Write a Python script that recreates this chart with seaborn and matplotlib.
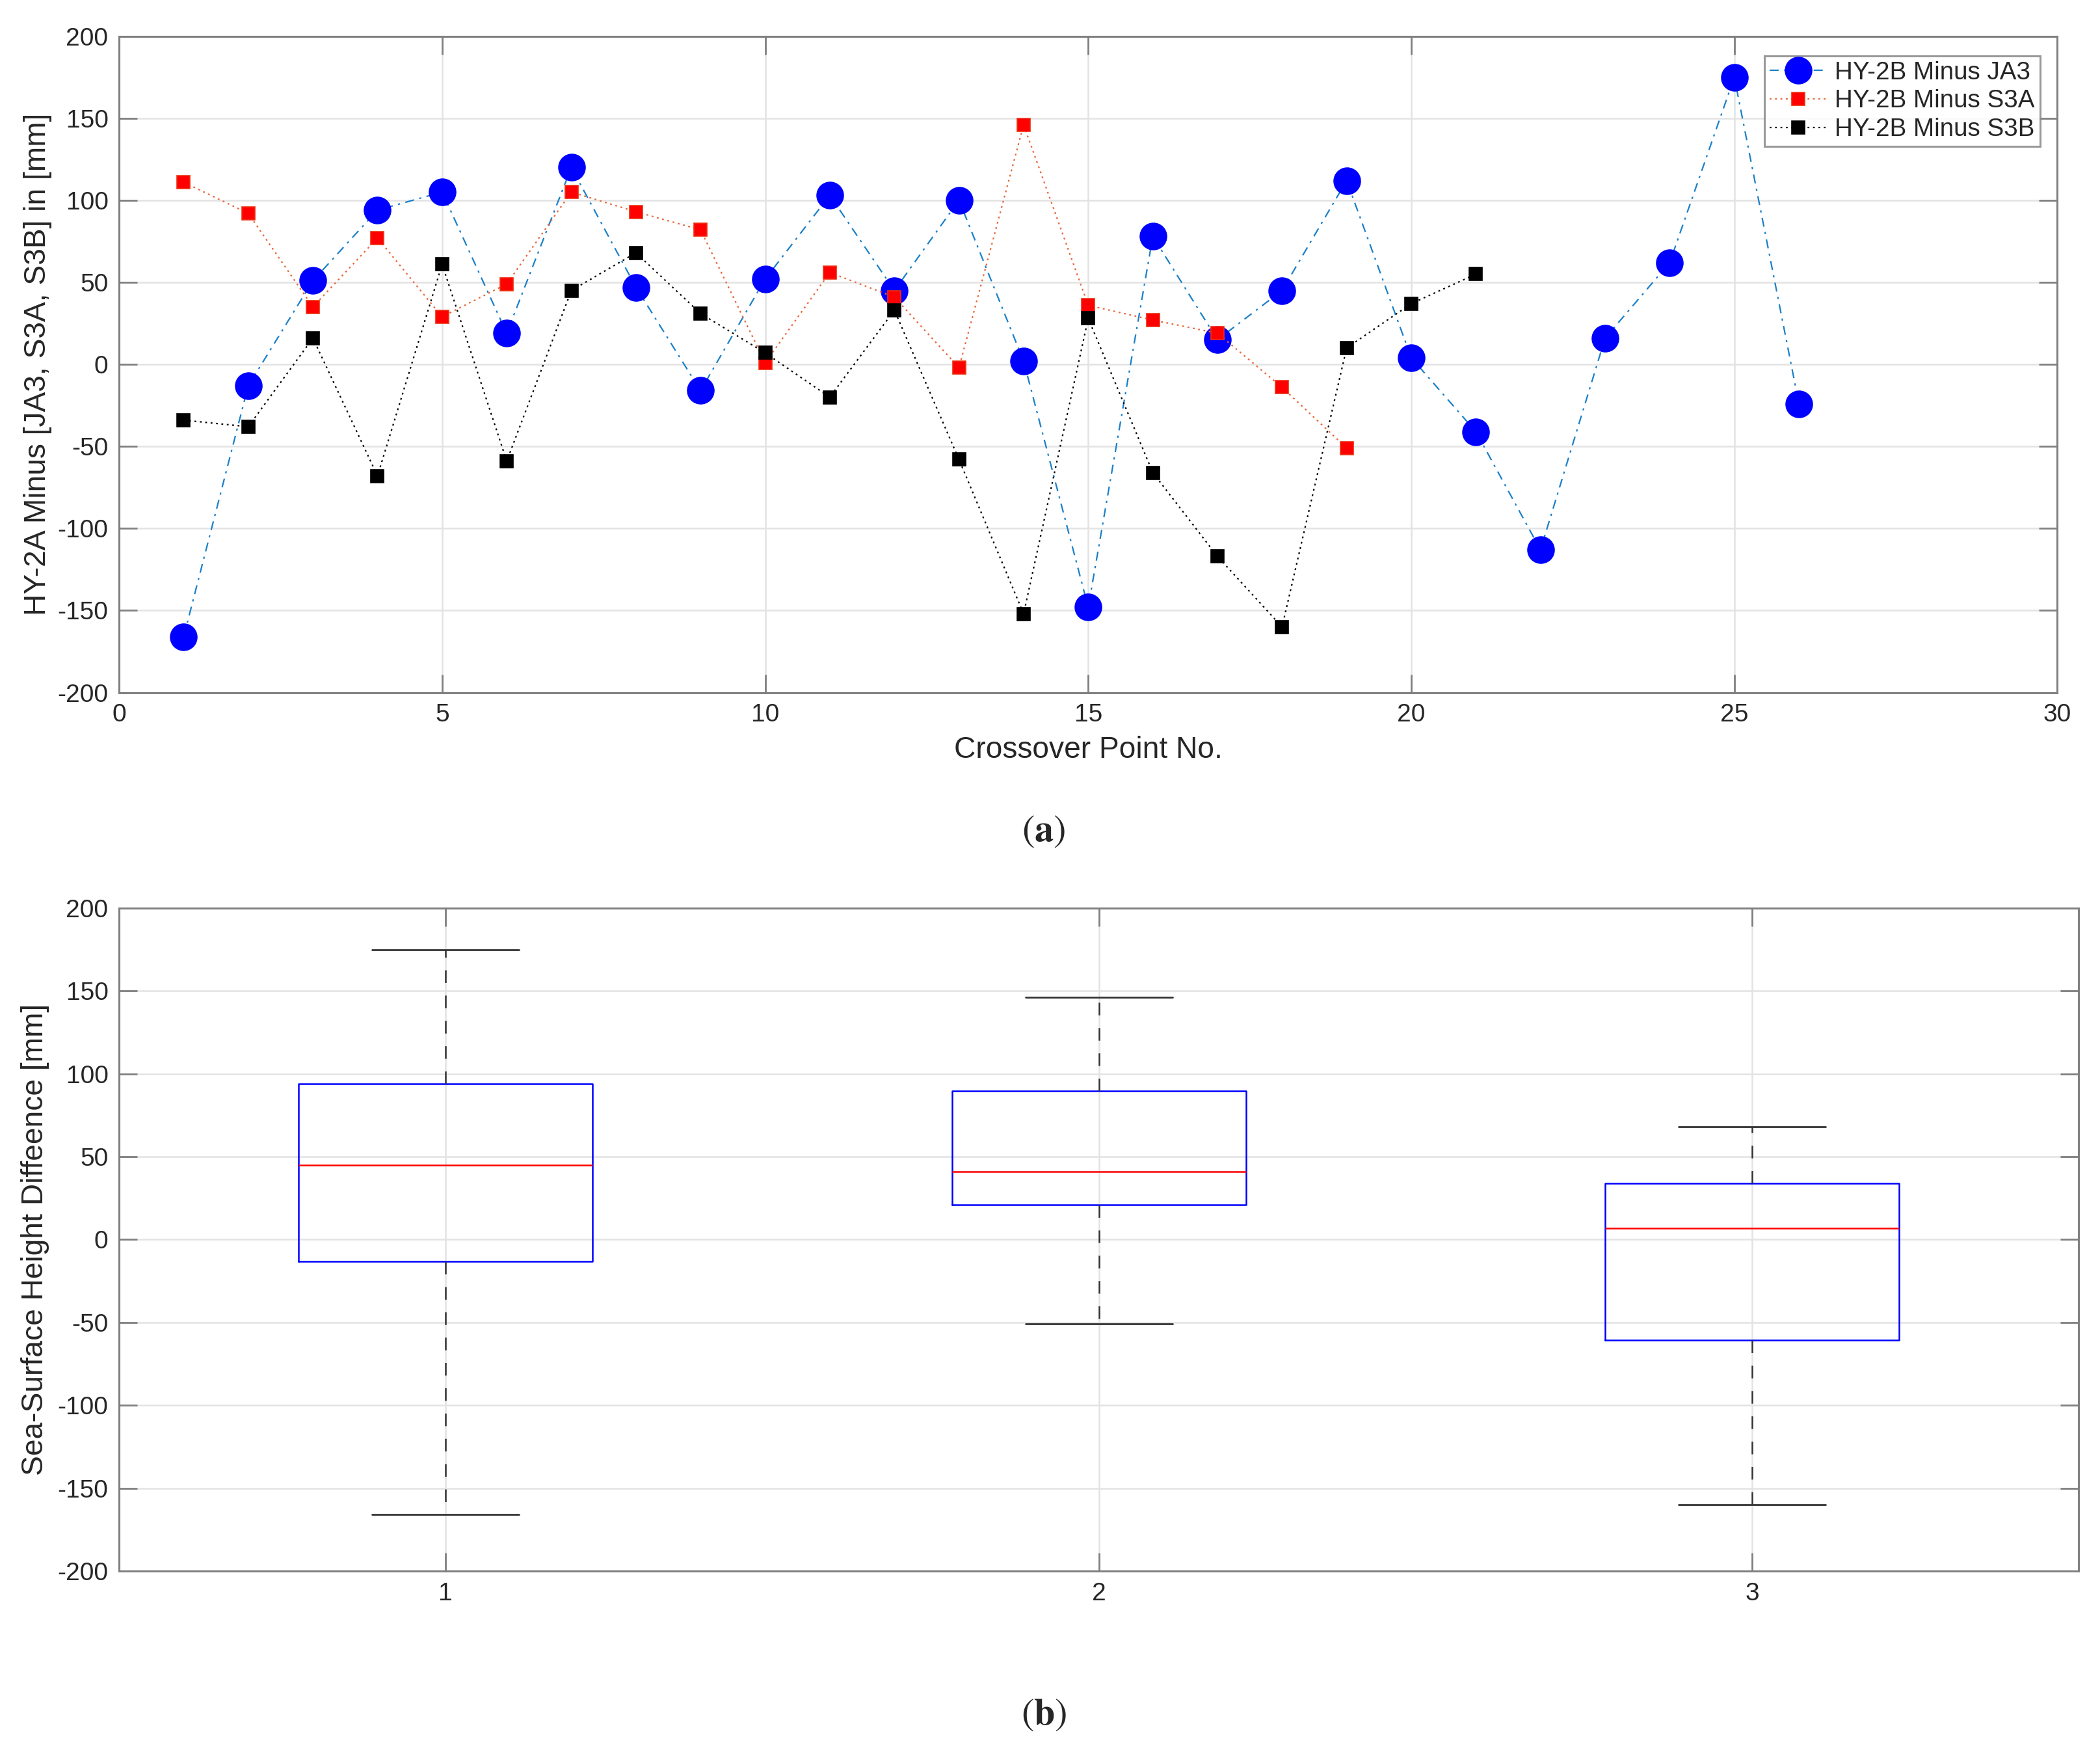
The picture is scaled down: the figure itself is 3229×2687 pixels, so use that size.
from functools import partial

import numpy as np
import pandas as pd
import matplotlib
matplotlib.use("Agg")
import matplotlib.pyplot as plt
import seaborn as sns

# crossover differences, in mm
ja3 = [-166, -13, 51, 94, 105, 19, 120, 47, -16, 52, 103, 45, 100, 2, -148,
       78, 15, 45, 112, 4, -41, -113, 16, 62, 175, -24]
s3a = [111, 92, 35, 77, 29, 49, 105, 93, 82, 1, 56, 41, -2, 146, 36, 27, 19,
       -14, -51]
s3b = [-34, -38, 16, -68, 61, -59, 45, 68, 31, 7, -20, 33, -58, -152, 28, -66,
       -117, -160, 10, 37, 55]

labels = ["HY-2B Minus JA3", "HY-2B Minus S3A", "HY-2B Minus S3B"]
groups = ["1", "2", "3"]
yticks = [-200, -150, -100, -50, 0, 50, 100, 150, 200]
xticks_top = [0, 5, 10, 15, 20, 25, 30]

sns.set_style("white")
plt.rcParams["font.family"] = ["Liberation Sans", "DejaVu Sans"]
plt.rcParams["lines.scale_dashes"] = False
plt.rcParams["axes.unicode_minus"] = False

fig = plt.figure(figsize=(16.145, 13.435), dpi=200)
ax1 = fig.add_axes([0.0567, 0.6038, 0.9230, 0.3755])
ax2 = fig.add_axes([0.0567, 0.1012, 0.9331, 0.3793])

spine_col = "#808080"
grid_col = "#e3e3e3"
text_col = "#262626"


def style_axes(ax):
    for s in ax.spines.values():
        s.set_color(spine_col)
        s.set_linewidth(1.1)
        s.set_visible(True)
    ax.tick_params(direction="in", length=10, width=1.0, color=spine_col,
                   labelsize=14, labelcolor=text_col, top=True, right=True,
                   bottom=True, left=True, pad=6)
    ax.grid(True, color=grid_col, linewidth=0.9)
    ax.set_axisbelow(True)


# (a) line plot
x_ja3 = np.arange(1, len(ja3) + 1)
x_s3a = np.arange(1, len(s3a) + 1)
x_s3b = np.arange(1, len(s3b) + 1)

sns.lineplot(x=x_ja3, y=ja3, ax=ax1, color="#1a80c8", linestyle=(0, (5, 3, 1.2, 3)),
             linewidth=0.8, marker="o", markersize=14.5, markerfacecolor="#0000ff",
             markeredgecolor="#0000ff", markeredgewidth=0.8, label=labels[0])
sns.lineplot(x=x_s3a, y=s3a, ax=ax1, color="#e8663a", linestyle=(0, (1, 2)),
             linewidth=0.8, marker="s", markersize=7.5, markerfacecolor="#ff0000",
             markeredgecolor="#ee3010", markeredgewidth=0.6, label=labels[1])
sns.lineplot(x=x_s3b, y=s3b, ax=ax1, color="black", linestyle=(0, (1, 2)),
             linewidth=0.8, marker="s", markersize=7.5, markerfacecolor="black",
             markeredgecolor="black", markeredgewidth=0.6, label=labels[2])

ax1.set_xlim(0, 30)
ax1.set_ylim(-200, 200)
ax1.set_xticks(xticks_top)
ax1.set_yticks(yticks)
style_axes(ax1)
ax1.set_xlabel("Crossover Point No.", fontsize=16.6, color=text_col)
ax1.set_ylabel("HY-2A Minus [JA3, S3A, S3B] in [mm]", fontsize=16.6, color=text_col)
ax1.yaxis.set_label_coords(-0.0345, 0.5)
ax1.xaxis.set_label_coords(0.5, -0.066)

leg = ax1.legend(loc="upper right", bbox_to_anchor=(0.991, 0.970), fontsize=13.9,
                 frameon=True, fancybox=False, edgecolor=spine_col,
                 borderpad=0.2, labelspacing=0.2, handlelength=2.3,
                 handletextpad=0.3, borderaxespad=0)
leg.get_frame().set_linewidth(1.1)

# (b) box plot
box_df = pd.DataFrame({
    "group": [groups[0]] * len(ja3) + [groups[1]] * len(s3a) + [groups[2]] * len(s3b),
    "value": ja3 + s3a + s3b,
})
# MATLAB-style quartiles (same as prctile) for the boxes
_pct = np.percentile
np.percentile = partial(_pct, method="hazen")
sns.boxplot(data=box_df, x="group", y="value", order=groups, ax=ax2, fill=False,
            width=0.45, whis=(0, 100), showfliers=False, color="#0000ff",
            saturation=1, linecolor="#0000ff", linewidth=0.9,
            boxprops=dict(color="#0000ff", linewidth=0.9),
            medianprops=dict(color="#ff0000", linewidth=0.9),
            whiskerprops=dict(color="#333333", linewidth=0.9, linestyle=(0, (7, 7))),
            capprops=dict(color="#333333", linewidth=1.0))
np.percentile = _pct
ax2.set_xlim(-0.5, 2.5)
ax2.set_ylim(-200, 200)
ax2.set_yticks(yticks)
style_axes(ax2)
ax2.set_xlabel("")
ax2.set_ylabel("Sea-Surface Height Diffeence [mm]", fontsize=16.6, color=text_col)
ax2.yaxis.set_label_coords(-0.0355, 0.5)

fig.text(0.497, 0.5245, r"$(\mathbf{a})$", ha="center", va="center", fontsize=21,
         math_fontfamily="stix")
fig.text(0.497, 0.019, r"$(\mathbf{b})$", ha="center", va="center", fontsize=21,
         math_fontfamily="stix")

fig.savefig("out.png", dpi=200, facecolor="white")
